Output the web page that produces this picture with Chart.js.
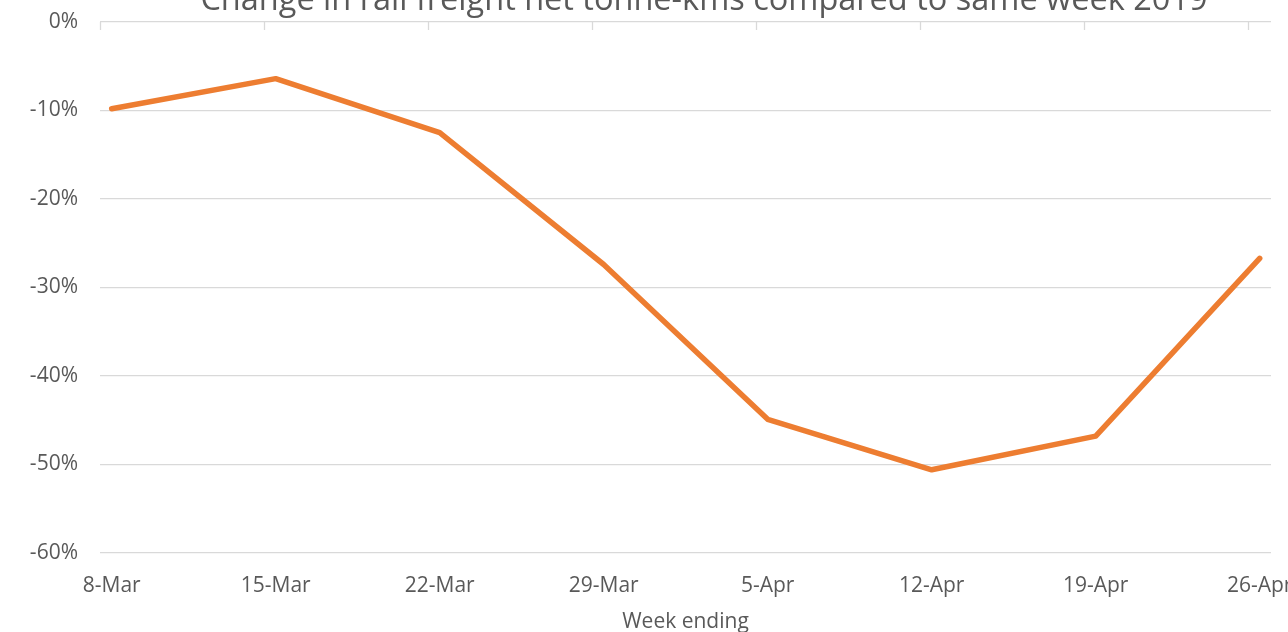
<!DOCTYPE html>
<html>
<head>
<meta charset="utf-8">
<script src="https://cdn.jsdelivr.net/npm/chart.js@4/dist/chart.umd.min.js"></script>
<style>
  html, body { margin: 0; padding: 0; background: #fff; overflow: hidden; }
  #wrap { width: 1288px; height: 640px; position: relative; }
</style>
</head>
<body>
<div id="wrap"><canvas id="grafico"></canvas></div>
<script>
// Datos
const semanas = ['8-Mar', '15-Mar', '22-Mar', '29-Mar', '5-Apr', '12-Apr', '19-Apr', '26-Apr'];
const cambio = [-9.8, -6.4, -12.5, -27.4, -44.9, -50.6, -46.8, -26.7];
const marcasY = [0, -10, -20, -30, -40, -50, -60];

const titulo = 'Change in rail freight net tonne-kms compared to same week 2019';
const gris = '#595959';
const lineaGris = '#d9d9d9';
const desfaseMarcas = -0.0713; // las marcas del eje quedan un poco antes de cada punto

// Título recortado en la parte superior y marcas cortas sobre la línea del 0%
const extras = {
    id: 'extras',
    afterDraw(chart) {
        const ctx = chart.ctx;
        const x = chart.scales.x;
        const y = chart.scales.y;
        const y0 = y.getPixelForValue(0);
        ctx.save();
        ctx.strokeStyle = lineaGris;
        ctx.lineWidth = 1.3;
        semanas.forEach((s, i) => {
            const px = Math.round(x.getPixelForValue(i + desfaseMarcas)) + 0.5;
            ctx.beginPath();
            ctx.moveTo(px, y0);
            ctx.lineTo(px, y0 + 8);
            ctx.stroke();
        });
        ctx.fillStyle = gris;
        ctx.font = '32.5px "Open Sans"';
        ctx.textAlign = 'center';
        ctx.textBaseline = 'alphabetic';
        ctx.fillText(titulo, 704, 10);
        ctx.restore();
    }
};

const config = {
    type: 'line',
    data: {
        datasets: [{
            label: titulo,
            data: cambio.map((v, i) => ({ x: i, y: v })),
            borderColor: '#ED7D31',
            borderWidth: 5.5,
            borderCapStyle: 'round',
            borderJoinStyle: 'round',
            pointRadius: 0,
            tension: 0,
            fill: false
        }]
    },
    options: {
        responsive: true,
        maintainAspectRatio: false,
        animation: false,
        layout: { padding: { top: 22, right: 17, left: 0, bottom: 0 } },
        plugins: {
            legend: { display: false },
            tooltip: { enabled: false },
            title: { display: false }
        },
        scales: {
            x: {
                type: 'linear',
                min: desfaseMarcas,
                max: 7.069,
                afterBuildTicks: (eje) => { eje.ticks = semanas.map((s, i) => ({ value: i })); },
                afterFit: (eje) => {
                    eje.height = 87;
                    eje.paddingLeft = 0;
                    eje.paddingRight = 0;
                },
                grid: { display: false, drawTicks: false },
                border: { display: false },
                ticks: {
                    autoSkip: false,
                    maxRotation: 0,
                    minRotation: 0,
                    padding: 20,
                    color: gris,
                    font: { family: 'Open Sans', size: 21 },
                    callback: (v) => semanas[v]
                },
                title: {
                    display: true,
                    text: 'Week ending',
                    color: gris,
                    font: { family: 'Open Sans', size: 21 },
                    padding: { top: 0, bottom: 5 }
                }
            },
            y: {
                min: -60,
                max: 0,
                afterBuildTicks: (eje) => { eje.ticks = marcasY.map(v => ({ value: v })); },
                afterFit: (eje) => {
                    eje.width = 100;
                    eje.paddingTop = 0;
                    eje.paddingBottom = 0;
                },
                grid: { color: lineaGris, lineWidth: 1.3, drawTicks: false },
                border: { display: false },
                ticks: {
                    padding: 22,
                    color: gris,
                    font: { family: 'Open Sans', size: 21 },
                    callback: (v) => v + '%'
                }
            }
        }
    },
    plugins: [extras]
};

const ctx = document.getElementById('grafico').getContext('2d');
new Chart(ctx, config);
</script>
</body>
</html>
